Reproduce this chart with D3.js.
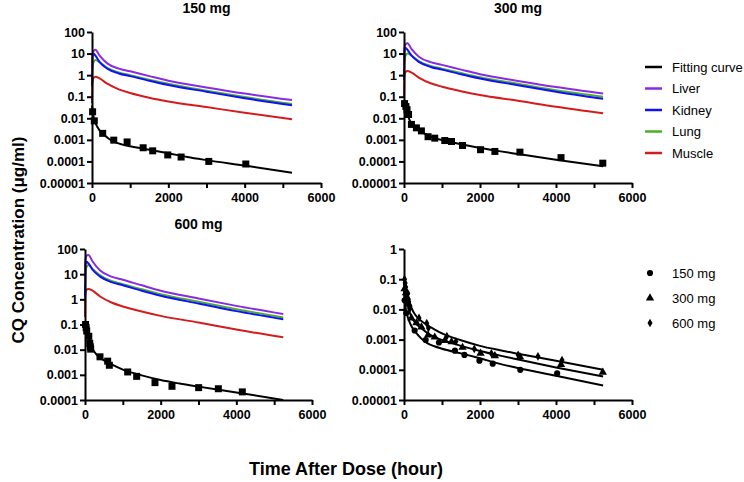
<!DOCTYPE html>
<html>
<head>
<meta charset="utf-8">
<script src="https://cdn.jsdelivr.net/npm/d3@7"></script>
<style>
  body { margin: 0; background: #fff; }
  svg { font-family: Arial, "Liberation Sans", sans-serif; }
</style>
</head>
<body>
<div id="container"></div>
<script>
let tissueT = [0, 10, 40, 90, 200, 400, 700, 1000, 1500, 2000, 3000, 4000, 5240];

let liver150  = [1, 8, 13, 15, 8, 3.5, 2.0, 1.5, 0.9, 0.55, 0.27, 0.14, 0.07];
let kidney150 = [0.3, 6, 10, 8, 4, 2.0, 1.2, 0.9, 0.55, 0.35, 0.17, 0.085, 0.04];
let lung150   = [0.3, 2, 4, 5, 4, 2.2, 1.35, 1.0, 0.62, 0.4, 0.19, 0.097, 0.046];
let muscle150 = [0.05, 0.4, 0.75, 0.85, 0.7, 0.4, 0.22, 0.15, 0.09, 0.06, 0.033, 0.018, 0.009];

let liver300  = [2, 16, 27, 30, 16, 7, 4, 3, 1.8, 1.1, 0.54, 0.28, 0.14];
let kidney300 = [0.6, 12, 18, 15, 8, 4, 2.4, 1.8, 1.1, 0.7, 0.34, 0.17, 0.08];
let lung300   = [0.6, 4, 8, 10, 8, 4.4, 2.7, 2.0, 1.25, 0.8, 0.4, 0.2, 0.1];
let muscle300 = [0.1, 0.8, 1.4, 1.55, 1.3, 0.75, 0.42, 0.29, 0.18, 0.12, 0.065, 0.034, 0.017];

let liver600  = [4, 35, 55, 58, 32, 14, 8, 6, 3.6, 2.2, 1.08, 0.55, 0.26];
let kidney600 = [1.2, 24, 31, 27, 15, 8, 4.8, 3.6, 2.2, 1.4, 0.68, 0.34, 0.16];
let lung600   = [1.2, 10, 19, 23, 16, 9, 5.4, 4.0, 2.5, 1.6, 0.8, 0.4, 0.19];
let muscle600 = [0.2, 1.5, 2.4, 2.6, 2.2, 1.3, 0.75, 0.52, 0.33, 0.22, 0.12, 0.063, 0.031];

// fitting curves
let fitT   = [0, 25, 50, 100, 150, 200, 300, 450, 600, 800, 1000, 1500, 2000, 2500, 3000, 4000, 5240];
let fit150 = [0.04, 0.018, 0.01, 0.0055, 0.0037, 0.0027, 0.0018, 0.0011, 0.00078, 0.0006, 0.0005, 0.00035, 0.00024, 0.00016, 0.000115, 0.000064, 0.00003];
let fit300 = [0.07, 0.045, 0.03, 0.014, 0.008, 0.0055, 0.0036, 0.0024, 0.0017, 0.0012, 0.00098, 0.00062, 0.00042, 0.0003, 0.00022, 0.00012, 0.00006];
let fit600 = [0.12, 0.08, 0.055, 0.03, 0.017, 0.011, 0.0065, 0.0042, 0.0031, 0.0022, 0.0016, 0.00095, 0.00062, 0.00045, 0.00034, 0.0002, 0.0001];

// observed concentrations
let obs150T = [16, 60, 280, 570, 920, 1340, 1590, 1985, 2335, 3060, 4030];
let obs150C = [0.02, 0.0076, 0.002, 0.00097, 0.0008, 0.00043, 0.00031, 0.0002, 0.00016, 0.0001, 0.000076];
let obs300T = [15, 50, 80, 120, 195, 326, 458, 633, 809, 1073, 1250, 1540, 2014, 2392, 3051, 4132, 5231];
let obs300C = [0.048, 0.035, 0.025, 0.015, 0.0052, 0.0036, 0.0026, 0.0014, 0.0012, 0.00093, 0.00084, 0.00055, 0.00035, 0.00029, 0.00027, 0.00015, 0.000083];
let obs600T = [15, 30, 45, 100, 125, 140, 150, 396, 599, 643, 1128, 1366, 1850, 2299, 3004, 3525, 4158];
let obs600C = [0.1, 0.075, 0.055, 0.034, 0.018, 0.013, 0.0105, 0.0052, 0.0035, 0.0024, 0.0013, 0.00087, 0.00049, 0.00035, 0.00031, 0.00028, 0.00021];

let tissueNames  = ["Liver", "Kidney", "Lung", "Muscle"];
let tissueColors = ["#8a2be2", "#1010ff", "#4caf2a", "#d41c1c"];
let doseNames = ["150 mg", "300 mg", "600 mg"];

let xTicks = [0, 1000, 2000, 3000, 4000, 5000, 6000];
let yTicks = [100, 10, 1, 0.1, 0.01, 0.001, 0.0001, 0.00001];
let yTickLabels = ["100", "10", "1", "0.1", "0.01", "0.001", "0.0001", "0.00001"];

let w = 744;
let h = 482;
let svg = d3.select("#container")
  .append("svg")
    .attr("width", w)
    .attr("height", h)
;

function zip(ts, vs){
  return ts.map(function(t, i){ return {t: t, c: vs[i]}; });
}

let panels = [
  {title: "150 mg", titleY: 13, x0: 92, x1: 321, yTop: 32, yBot: 183, yMin: 0.00001, yMax: 100,
   tissue: [liver150, kidney150, lung150, muscle150], fits: [fit150], obs: [[obs150T, obs150C]], shapes: ["square"]},
  {title: "300 mg", titleY: 13, x0: 404, x1: 632, yTop: 32, yBot: 183, yMin: 0.00001, yMax: 100,
   tissue: [liver300, kidney300, lung300, muscle300], fits: [fit300], obs: [[obs300T, obs300C]], shapes: ["square"]},
  {title: "600 mg", titleY: 229, x0: 85, x1: 312, yTop: 249, yBot: 400, yMin: 0.0001, yMax: 100,
   tissue: [liver600, kidney600, lung600, muscle600], fits: [fit600], obs: [[obs600T, obs600C]], shapes: ["square"]},
  {title: "", titleY: 229, x0: 404, x1: 632, yTop: 249, yBot: 400, yMin: 0.00001, yMax: 1,
   tissue: [], fits: [fit150, fit300, fit600],
   obs: [[obs150T, obs150C], [obs300T, obs300C], [obs600T, obs600C]],
   shapes: ["circle", "triangle", "diamond"]}
];

let symbolFor = {
  square: d3.symbol().type(d3.symbolSquare).size(49),
  circle: d3.symbol().type(d3.symbolCircle).size(30),
  triangle: d3.symbol().type(d3.symbolTriangle).size(30),
  diamond: d3.symbol().type(d3.symbolDiamond).size(22)
};

panels.forEach(function(p){
  let x = d3.scaleLinear().domain([0, 6000]).range([p.x0, p.x1]);
  let y = d3.scaleLog().domain([p.yMin, p.yMax]).range([p.yBot, p.yTop]);
  let g = svg.append("g");

  let lineMaker = d3.line()
    .x(function(d){ return x(d.t); })
    .y(function(d){ return y(d.c); })
    .curve(d3.curveMonotoneX)
  ;

  // tissue curves, muscle first so liver ends on top
  for (let k = p.tissue.length - 1; k >= 0; k--) {
    g.append("path")
      .datum(zip(tissueT, p.tissue[k]))
      .attr("d", lineMaker)
      .attr("fill", "none")
      .attr("stroke", tissueColors[k])
      .attr("stroke-width", 2);
  }

  p.fits.forEach(function(f){
    g.append("path")
      .datum(zip(fitT, f))
      .attr("d", lineMaker)
      .attr("fill", "none")
      .attr("stroke", "black")
      .attr("stroke-width", 2);
  });

  p.obs.forEach(function(o, k){
    g.selectAll(null)
      .data(zip(o[0], o[1]))
      .enter()
      .append("path")
        .attr("d", symbolFor[p.shapes[k]])
        .attr("transform", function(d){ return "translate(" + x(d.t) + "," + y(d.c) + ")"; })
        .attr("fill", "black");
  });

  // axes
  let ticksHere = yTicks.filter(function(v){ return v >= p.yMin * 0.999 && v <= p.yMax * 1.001; });
  let yAxis = d3.axisLeft(y)
    .tickValues(ticksHere)
    .tickFormat(function(v){ return yTickLabels[yTicks.indexOf(v)]; })
    .tickSize(5)
    .tickSizeOuter(0);
  let xAxis = d3.axisBottom(x)
    .tickValues(xTicks)
    .tickFormat(function(v){ return v % 2000 === 0 ? v : ""; })
    .tickSize(5)
    .tickSizeOuter(0);

  let ya = g.append("g").attr("transform", "translate(" + p.x0 + ",0)").call(yAxis);
  let xa = g.append("g").attr("transform", "translate(0," + p.yBot + ")").call(xAxis);
  [ya, xa].forEach(function(a){
    a.selectAll("path, line").attr("stroke", "black").attr("stroke-width", 2);
    a.selectAll("text")
      .attr("fill", "black")
      .style("font-size", "12.5px")
      .style("font-weight", "bold")
      .style("font-family", "Arial, 'Liberation Sans', sans-serif");
  });
  ya.selectAll("text").attr("x", -7);
  xa.selectAll("text").attr("y", 10);

  if (p.title) {
    svg.append("text")
      .attr("x", (p.x0 + p.x1) / 2)
      .attr("y", p.titleY)
      .attr("text-anchor", "middle")
      .style("font-size", "14px")
      .style("font-weight", "bold")
      .text(p.title);
  }
});

// legend: curves
let legendLabels = ["Fitting curve"].concat(tissueNames);
let legendColors = ["black"].concat(tissueColors);
legendLabels.forEach(function(name, i){
  let yy = 67 + i * 21.5;
  svg.append("line")
    .attr("x1", 645).attr("x2", 662)
    .attr("y1", yy).attr("y2", yy)
    .attr("stroke", legendColors[i])
    .attr("stroke-width", 2.5);
  svg.append("text")
    .attr("x", 672).attr("y", yy + 4.5)
    .style("font-size", "13px")
    .text(name);
});

// legend: doses
let doseShapes = ["circle", "triangle", "diamond"];
doseNames.forEach(function(name, i){
  let yy = 273 + i * 25;
  svg.append("path")
    .attr("d", symbolFor[doseShapes[i]])
    .attr("transform", "translate(650," + yy + ")")
    .attr("fill", "black");
  svg.append("text")
    .attr("x", 672).attr("y", yy + 4.5)
    .style("font-size", "13px")
    .text(name);
});

// axis titles
svg.append("text")
  .attr("transform", "translate(24,240) rotate(-90)")
  .attr("text-anchor", "middle")
  .style("font-size", "17px")
  .style("font-weight", "bold")
  .text("CQ Concentration (μg/ml)");

svg.append("text")
  .attr("x", 346)
  .attr("y", 475)
  .attr("text-anchor", "middle")
  .style("font-size", "18px")
  .style("font-weight", "bold")
  .text("Time After Dose (hour)");
</script>
</body>
</html>
